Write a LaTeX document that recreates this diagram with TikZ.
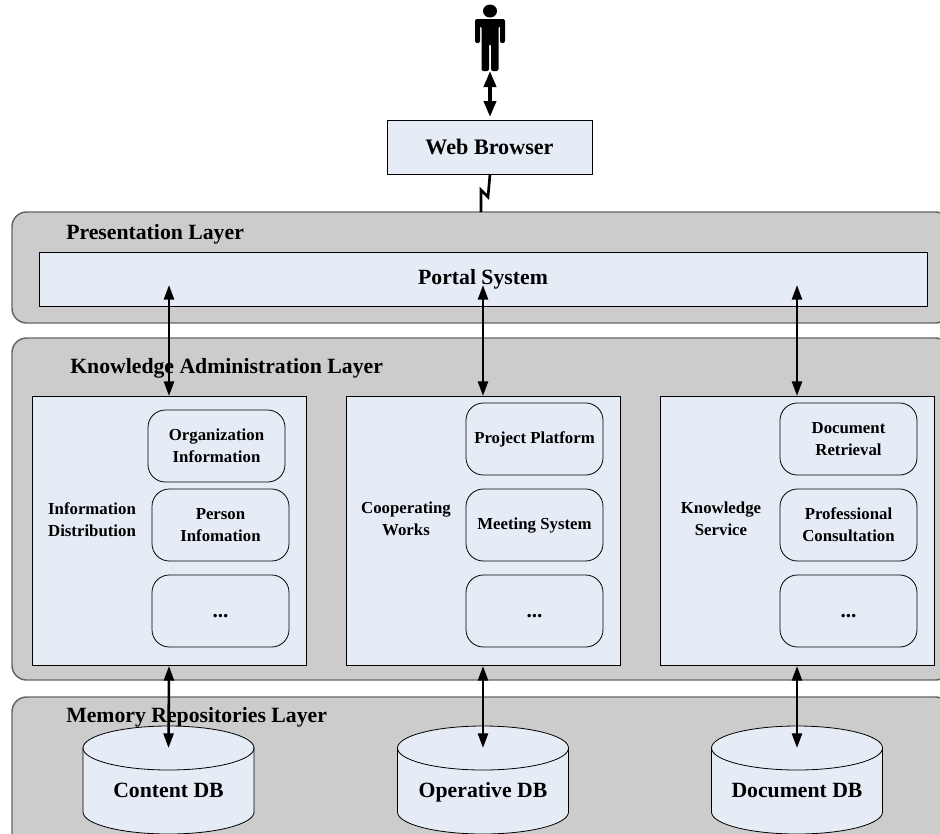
\documentclass[tikz,border=0pt]{standalone}
\usepackage{fontspec}
\setmainfont{Liberation Serif}
\usetikzlibrary{arrows.meta}
\definecolor{myfill}{RGB}{230,236,246}
\definecolor{mygray}{RGB}{204,204,204}
\definecolor{myedge}{RGB}{100,100,100}
\tikzset{
  layer/.style={draw=myedge,line width=1.1pt,fill=mygray,rounded corners=11pt},
  panel/.style={draw=black,fill=myfill,line width=0.7pt,inner sep=0pt},
  item/.style={draw=black,fill=myfill,line width=0.6pt,rounded corners=13pt,align=center,font=\fontsize{12.6}{16.5}\selectfont\bfseries,inner sep=0pt,minimum width=137*0.75pt,minimum height=72*0.75pt},
  title/.style={font=\fontsize{16.3}{18}\selectfont\bfseries,anchor=base west,inner sep=0pt},
  side/.style={font=\fontsize{12.6}{16.5}\selectfont\bfseries,align=center,inner sep=0pt},
  link/.style={{Triangle[length=11pt,width=7.5pt]}-{Triangle[length=11pt,width=7.5pt]},line width=1.9pt},
  biglink/.style={{Triangle[length=12pt,width=9pt]}-{Triangle[length=12pt,width=9pt]},line width=2.8pt},
  bigtext/.style={font=\fontsize{16.3}{18}\selectfont\bfseries,inner sep=0pt}
}
% one drawn cylinder, arguments: name, centre x, text
\newcommand{\dbcyl}[3]{
  \path[draw=black,fill=myfill,line width=0.6pt] (#2-85.5,-748) arc (180:0:85.5 and 22) -- (#2+85.5,-812) arc (360:180:85.5 and 22) -- cycle;
  \path[draw=black,line width=0.6pt] (#2-85.5,-748) arc (180:360:85.5 and 22);
  \coordinate (#1) at (#2,-748);
  \node[bigtext,anchor=base] (#1text) at (#2,-797) {#3};
}
% text of an item holding one line
\newcommand{\oneline}[2]{\raisebox{#1}[0pt][0pt]{#2}}
\begin{document}
\begin{tikzpicture}[x=0.75pt,y=0.75pt]
\useasboundingbox (0,0) rectangle (940,-833);

% layers
\begin{scope}
\clip (0,0) rectangle (940,-833);
\draw[layer] (12,-212) rectangle (950,-323);
\draw[layer] (12,-338) rectangle (950,-680);
\draw[layer] (12,-697) rectangle (950,-860);
\end{scope}

\node[title] (presentation) at (66,-239) {Presentation Layer};
\node[title] (knowledge) at (70,-373) {Knowledge Administration Layer};
\node[title] (memory) at (66,-722) {Memory Repositories Layer};

% person
\fill (490,-11) ellipse (7 and 6.5);
\fill[rounded corners=1.5pt] (475,-19) -- (505,-19) -- (505,-43) -- (500,-43) -- (500,-26) -- (498.5,-26) -- (498.5,-71) -- (491,-71) -- (491,-44) -- (489,-44) -- (489,-71) -- (481.5,-71) -- (481.5,-26) -- (480,-26) -- (480,-43) -- (475,-43) -- cycle;
\coordinate (person) at (490,-71);

% top
\node[panel,minimum width=205*0.75pt,minimum height=54*0.75pt,font=\fontsize{16.6}{18}\selectfont\bfseries] (browser) at (489.5,-147) {Web Browser};
\draw[biglink] (person) -- (490,-117);
\coordinate (gate) at (481,-212);
\draw[line width=2pt] (490,-174) -- (488,-197) -- (481,-190) -- (gate);

\node[panel,minimum width=888*0.75pt,minimum height=54*0.75pt,font=\fontsize{16.3}{18}\selectfont\bfseries] (portal) at (483,-279) {Portal System};

% middle panels
\foreach \name/\cx in {infopanel/169,workpanel/483,servpanel/797.5}
  \node[panel,minimum width=274*0.75pt,minimum height=269*0.75pt] (\name) at (\cx,-530.5) {};

\node[side] (infotext) at (92,-520) {Information\\Distribution};
\node[side] (worktext) at (406,-519) {Cooperating\\Works};
\node[side] (servtext) at (721,-519) {Knowledge\\Service};

\foreach \name/\cx/\cy/\txt in {
  orgitem/216.5/446/{Organization\\Information},
  peritem/220.5/525/{Person\\Infomation},
  infodots/220.5/611/{\oneline{-5pt}{\fontsize{16}{16}\selectfont ...}},
  projitem/534.5/439/{\oneline{-3pt}{Project Platform}},
  meetitem/534.5/525/{\oneline{-3pt}{Meeting System}},
  workdots/534.5/611/{\oneline{-5pt}{\fontsize{16}{16}\selectfont ...}},
  docitem/848.5/439/{Document\\Retrieval},
  consitem/848.5/525/{Professional\\Consultation},
  servdots/848.5/611/{\oneline{-5pt}{\fontsize{16}{16}\selectfont ...}}}
  \node[item] (\name) at (\cx,-\cy) {\txt};

% databases
\dbcyl{contentdb}{168.5}{Content DB}
\dbcyl{operdb}{483}{Operative DB}
\dbcyl{docdb}{797}{Document DB}

% links
\foreach \upper/\lower/\cx in {infopanel/contentdb/169,workpanel/operdb/483,servpanel/docdb/797}{
  \coordinate (\upper top) at (\cx,-285);
  \draw[link] (\upper top) -- (\cx,-396);
  \draw[link] (\cx,-666) -- (\lower);
}
\end{tikzpicture}
\end{document}
